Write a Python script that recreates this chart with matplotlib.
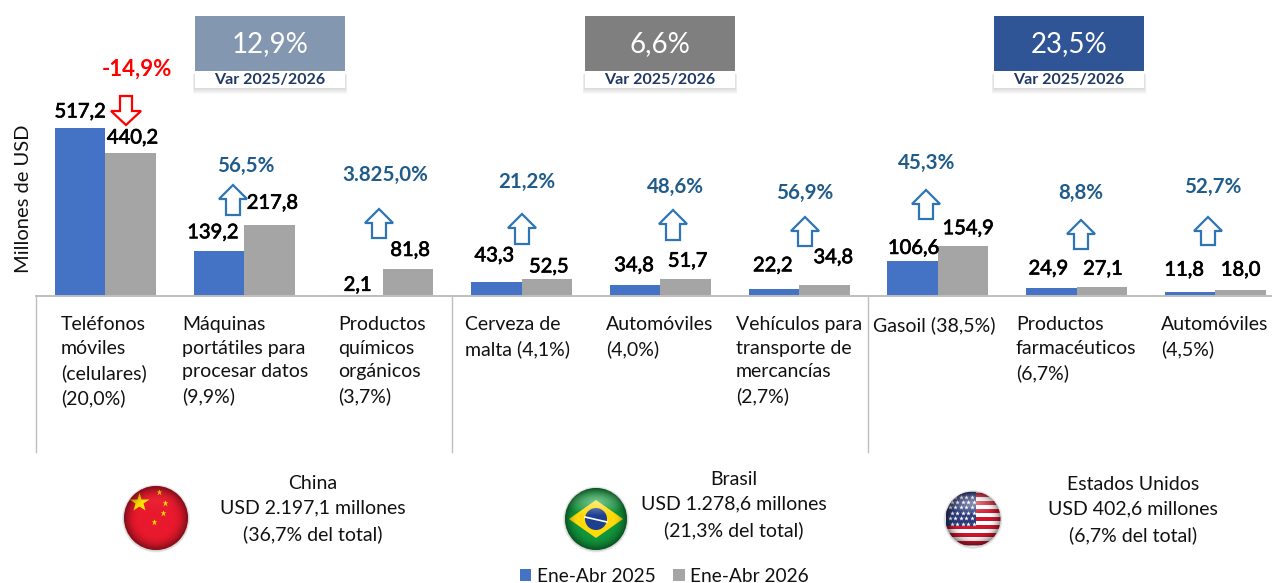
import numpy as np
import matplotlib
matplotlib.use('Agg')
import matplotlib.pyplot as plt
import matplotlib.patheffects as pe
from matplotlib.patches import Rectangle, Circle, Polygon

plt.rcParams['font.family'] = ['Lato', 'DejaVu Sans']

# Datos
categorias = ['Teléfonos\nmóviles\n(celulares)\n(20,0%)',
              'Máquinas\nportátiles para\nprocesar datos\n(9,9%)',
              'Productos\nquímicos\norgánicos\n(3,7%)',
              'Cerveza de\nmalta (4,1%)',
              'Automóviles\n(4,0%)',
              'Vehículos para\ntransporte de\nmercancías\n(2,7%)',
              'Gasoil (38,5%)',
              'Productos\nfarmacéuticos\n(6,7%)',
              'Automóviles\n(4,5%)']
ene_abr_2025 = [517.2, 139.2, 2.1, 43.3, 34.8, 22.2, 106.6, 24.9, 11.8]
ene_abr_2026 = [440.2, 217.8, 81.8, 52.5, 51.7, 34.8, 154.9, 27.1, 18.0]
variaciones = ['-14,9%', '56,5%', '3.825,0%', '21,2%', '48,6%', '56,9%', '45,3%', '8,8%', '52,7%']
var_total = ['12,9%', '6,6%', '23,5%']
paises = ['China\nUSD 2.197,1 millones\n(36,7% del total)',
          'Brasil\nUSD 1.278,6 millones\n(21,3% del total)',
          'Estados Unidos\nUSD 402,6 millones\n(6,7% del total)']

# Ajustes de posicion en pixeles
off_2025 = [(0, 16), (-6, 18), (0, 10), (-2, 26), (-1, 19), (-1, 23), (1, 13), (-3, 19), (-6, 22)]
off_2026 = [(2, 15), (3, 22), (2, 19), (2, 12), (2, 18), (9, 27), (5, 17), (1, 18), (0, 20)]
cat_x = [61, 182, 338, 465, 606, 736, 873, 1016, 1161]
var_pos = [(137, 69), (246, 166), (385, 175), (527, 182), (675, 187), (805, 193), (927, 163), (1081, 193), (1213, 187)]
flecha_pos = [(126, 96, 125), (233, 185, 215), (379, 209, 238), (522, 214, 244), (673, 210, 240),
              (805, 217, 246), (926, 190, 219), (1081, 220, 249), (1208, 217, 245)]

W, H = 1272, 583
fig = plt.figure(figsize=(W / 100, H / 100), dpi=100)

# Barras
base_y = 296
ax = fig.add_axes([36 / W, 1 - base_y / H, (W - 36) / W, base_y / H])
x = np.arange(len(categorias))
ancho = 50.5 / 138.75
b1 = ax.bar(x - ancho / 2, ene_abr_2025, ancho, color='#4472C4', label='Ene-Abr 2025')
b2 = ax.bar(x + ancho / 2, ene_abr_2026, ancho, color='#A5A5A5', label='Ene-Abr 2026')
ax.set_xlim(-0.5, -0.5 + (W - 36) / 138.75)
ax.set_ylim(0, base_y / 0.3248)
ax.axis('off')

trazo = [pe.withStroke(linewidth=0.5, foreground='black')]
for i in x:
    ax.annotate(f'{ene_abr_2025[i]:.1f}'.replace('.', ','), (i - ancho / 2, ene_abr_2025[i]),
                xytext=off_2025[i], textcoords='offset pixels', ha='center', va='center',
                fontsize=14.5, color='black', path_effects=trazo)
    ax.annotate(f'{ene_abr_2026[i]:.1f}'.replace('.', ','), (i + ancho / 2, ene_abr_2026[i]),
                xytext=off_2026[i], textcoords='offset pixels', ha='center', va='center',
                fontsize=14.5, color='black', path_effects=trazo)

# Capa para textos y adornos, en pixeles
capa = fig.add_axes([0, 0, 1, 1], zorder=5)
capa.patch.set_alpha(0)
capa.axis('off')

capa.plot([36, W], [base_y, base_y], color='#BFBFBF', lw=1.4)
for xv in [36, 452, 868]:
    capa.plot([xv, xv], [base_y, 452], color='#BFBFBF', lw=1)

capa.text(24, 199, 'Millones de USD', rotation=90, ha='center', va='center', fontsize=14.5, color='#111111')

for i, etiqueta in enumerate(categorias):
    capa.text(cat_x[i], 316, etiqueta, ha='left', va='top', fontsize=14, linespacing=1.48, color='#111111')

for i, (px, py) in enumerate(var_pos):
    if i == 0:
        capa.text(px, py, variaciones[i], ha='center', va='center', fontsize=16, color='red', fontweight='bold')
    else:
        capa.text(px, py, variaciones[i], ha='center', va='center', fontsize=14.8, color='#1F5C8B', fontweight='bold')

# Flechas
for i, (cx, y0, y1) in enumerate(flecha_pos):
    if i == 0:
        pts = [(cx - 6, y0), (cx + 6, y0), (cx + 6, y0 + 15), (cx + 15, y0 + 15), (cx, y1),
               (cx - 15, y0 + 15), (cx - 6, y0 + 15)]
        capa.add_patch(Polygon(pts, closed=True, fc='white', ec='red', lw=1.6))
    else:
        pts = [(cx - 7, y1), (cx + 7, y1), (cx + 7, y0 + 14), (cx + 14, y0 + 14), (cx, y0),
               (cx - 14, y0 + 14), (cx - 7, y0 + 14)]
        capa.add_patch(Polygon(pts, closed=True, fc='white', ec='#2E75B6', lw=1.6))

# Recuadros de variacion total
cajas = [(195, '#8497B0'), (585, '#7F7F7F'), (994, '#2F5597')]
for (bx, col), txt in zip(cajas, var_total):
    for g in range(6, 0, -1):
        capa.add_patch(Rectangle((bx - g * 0.4, 74), 150 + g * 0.8, 14 + g, fc='black', ec='none', alpha=0.025))
    capa.add_patch(Rectangle((bx, 71), 150, 17, fc='white', ec='none'))
    capa.add_patch(Rectangle((bx, 16), 150, 55, fc=col, ec='none'))
    capa.text(bx + 75, 44, txt, ha='center', va='center', fontsize=20, color='white')
    capa.text(bx + 75, 80, 'Var 2025/2026', ha='center', va='center', fontsize=11.5, color='#1F3864', fontweight='bold')

# Textos de paises
pais_x = [313, 734, 1133]
pais_y = [509, 505, 510]
for px, py, txt in zip(pais_x, pais_y, paises):
    capa.text(px, py, txt, ha='center', va='center', fontsize=14, linespacing=1.55, color='#111111')


# Banderas
def brillo(cx, cy, r, clip, alfa=0.45):
    # sombreado esferico
    n = 120
    yy, xx = np.mgrid[-1:1:n * 1j, -1:1:n * 1j]
    d = np.sqrt(xx ** 2 + yy ** 2)
    img = np.zeros((n, n, 4))
    img[..., 3] = np.clip((d - 0.55) / 0.45, 0, 1) ** 2 * 0.45
    capa.imshow(img, extent=(cx - r, cx + r, cy + r, cy - r), clip_path=clip, aspect='auto', zorder=4, interpolation='bilinear')
    img2 = np.ones((n, n, 4))
    img2[..., 3] = np.clip(1 - np.sqrt(xx ** 2 + ((yy + 0.55) / 0.45) ** 2), 0, 1) * alfa
    capa.imshow(img2, extent=(cx - r, cx + r, cy + r, cy - r), clip_path=clip, aspect='auto', zorder=4, interpolation='bilinear')


def sombra(cx, cy, r):
    for g in range(3, 0, -1):
        capa.add_patch(Circle((cx, cy + 0.5), r + g * 0.7, fc='black', ec='none', alpha=0.06))


# China
cx, cy, r = 156, 518, 32
sombra(cx, cy, r)
c = Circle((cx, cy), r, fc='#E8192C', ec='none', zorder=2)
capa.add_patch(c)
capa.plot([cx - 17], [cy - 16], marker='*', ms=15, color='#FFE600', mec='none', zorder=3)
for dx, dy in [(3, -26), (9, -15), (7, -5), (-2, 4)]:
    capa.plot([cx + dx], [cy + dy], marker='*', ms=5, color='#FFE600', mec='none', zorder=3)
brillo(cx, cy, r, c, alfa=0.04)

# Brasil
cx, cy, r = 596, 519, 31
sombra(cx, cy, r)
c = Circle((cx, cy), r, fc='#12963C', ec='none', zorder=2)
capa.add_patch(c)
capa.add_patch(Polygon([(cx - 27, cy), (cx, cy - 19), (cx + 27, cy), (cx, cy + 19)], closed=True, fc='#FFD90A', ec='none', zorder=3))
capa.add_patch(Circle((cx, cy), 11, fc='#1C3F8F', ec='none', zorder=3))
capa.plot([cx - 11, cx + 11], [cy - 2, cy + 3], color='white', lw=1.2, zorder=3)
brillo(cx, cy, r, c)

# Estados Unidos
cx, cy, r = 973, 519, 27.5
sombra(cx, cy, r)
c = Circle((cx, cy), r, fc='white', ec='none', zorder=2)
capa.add_patch(c)
for k in range(7):
    f = Rectangle((cx - r, cy - r + 1 + k * 8), 2 * r, 4, fc='#D0142C', ec='none', zorder=3)
    capa.add_patch(f)
    f.set_clip_path(c)
canton = Rectangle((cx - r, cy - r), r + 3, 34, fc='#2B3A78', ec='none', zorder=3)
capa.add_patch(canton)
canton.set_clip_path(c)
for fila in range(6):
    for col in range(5):
        estrella, = capa.plot([cx - r + 4 + col * 5.5 + (fila % 2) * 2], [cy - r + 5 + fila * 5.4], marker='*', ms=3.5,
                              color='white', mec='none', zorder=3)
        estrella.set_clip_path(c)
brillo(cx, cy, r, c)

capa.set_xlim(0, W)
capa.set_ylim(H, 0)

# Leyenda
fig.legend(handles=[b1, b2], loc='center', bbox_to_anchor=(664.5 / W, 1 - 576 / H), ncol=2, frameon=False,
           fontsize=13.8, handlelength=0.6, handleheight=0.6, handletextpad=0.3, columnspacing=0.9,
           labelcolor='#111111', borderpad=0)

plt.savefig('out.png', dpi=100)
